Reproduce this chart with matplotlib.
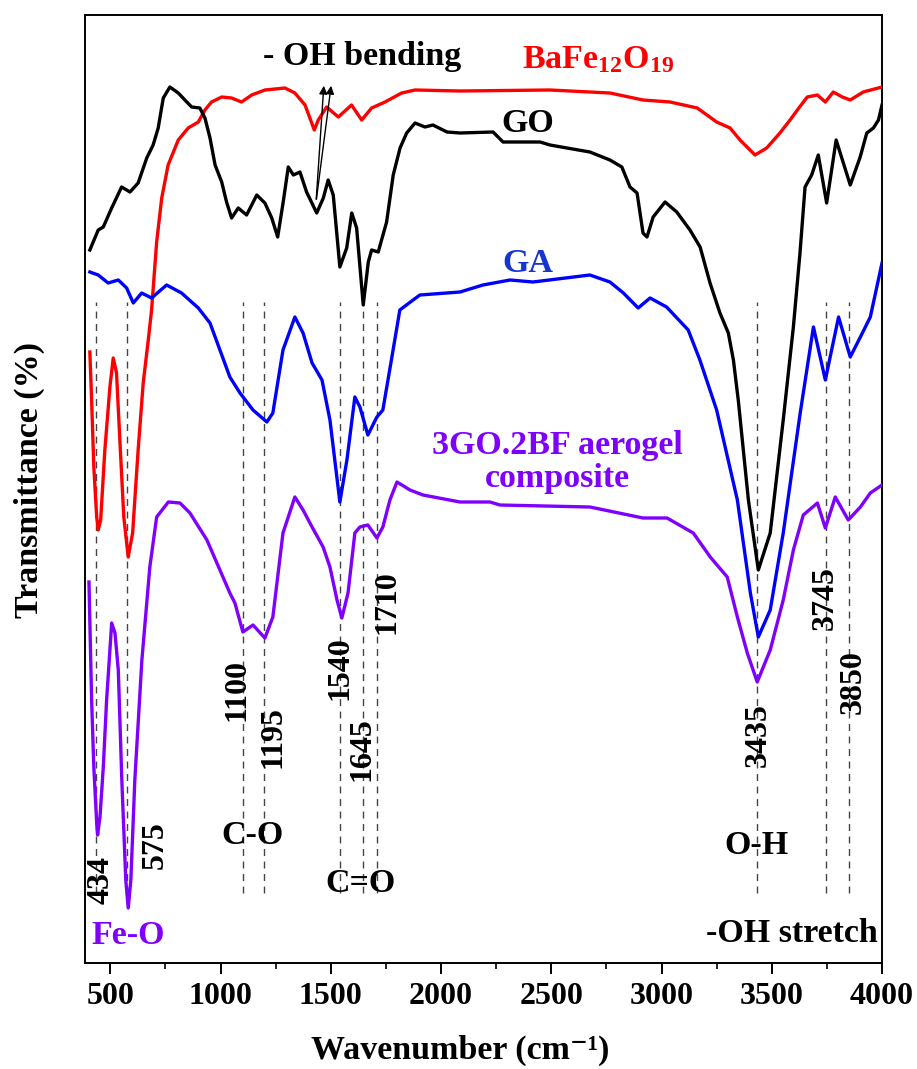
import matplotlib
matplotlib.use("Agg")
import matplotlib.pyplot as plt
from matplotlib.ticker import MultipleLocator

plt.rcParams.update({
    "font.family": ["Liberation Serif", "DejaVu Serif"],
    "font.weight": "bold",
    "mathtext.fontset": "custom",
    "mathtext.rm": "Liberation Serif:bold",
    "mathtext.bf": "Liberation Serif:bold",
    "mathtext.it": "Liberation Serif:bold",
})

# --- spectra (wavenumber, offset transmittance in arbitrary units) ---
go_wn = [407, 445, 468, 506, 551, 589, 626, 665, 694, 717, 740, 770, 808, 838,
         869, 906, 929, 952, 975, 1005, 1027, 1050, 1080, 1118, 1164, 1201, 1232,
         1259, 1284, 1307, 1330, 1360, 1390, 1436, 1466, 1488, 1511, 1541, 1572,
         1595, 1617, 1647, 1670, 1685, 1715, 1753, 1783, 1814, 1844, 1882, 1927,
         1963, 2027, 2086, 2236, 2281, 2449, 2494, 2571, 2675, 2766, 2820, 2857,
         2889, 2916, 2934, 2962, 3016, 3069, 3129, 3175, 3220, 3265, 3303, 3326,
         3348, 3394, 3439, 3493, 3553, 3598, 3628, 3651, 3681, 3711, 3749, 3792,
         3856, 3901, 3931, 3961, 3984, 4000]
go_t = [713, 733, 736, 755, 776, 771, 780, 805, 818, 835, 865, 876, 870, 863,
        856, 855, 845, 825, 798, 781, 761, 745, 755, 748, 768, 760, 745,
        726, 761, 796, 788, 791, 771, 750, 765, 783, 768, 696, 715,
        750, 735, 658, 701, 713, 711, 741, 788, 815, 830, 840, 836,
        838, 831, 830, 831, 821, 821, 818, 815, 811, 803, 796, 776,
        770, 730, 726, 746, 761, 751, 733, 716, 680, 650, 630, 603,
        563, 463, 393, 430, 545, 636, 710, 776, 788, 808, 760, 823,
        778, 806, 830, 835, 843, 858]

bf_wn = [407, 415, 425, 438, 445, 456, 475, 498, 513, 528, 543, 561, 581, 601,
         626, 649, 672, 687, 710, 733, 762, 808, 853, 899, 929, 959, 1005, 1050,
         1095, 1141, 1201, 1292, 1337, 1383, 1405, 1425, 1443, 1481, 1534, 1594,
         1640, 1685, 1746, 1821, 1882, 2086, 2494, 2766, 2916, 3039, 3162, 3250,
         3311, 3356, 3424, 3477, 3537, 3583, 3616, 3661, 3707, 3743, 3779, 3820,
         3856, 3915, 4000]
bf_t = [611, 563, 496, 446, 433, 443, 513, 576, 605, 590, 523, 446, 406, 430,
        513, 580, 623, 653, 721, 765, 798, 823, 835, 841, 853, 861, 866, 865,
        861, 868, 873, 875, 870, 858, 845, 833, 843, 856, 846, 858,
        843, 855, 861, 870, 873, 872, 873, 870, 863, 861, 855, 841,
        835, 823, 808, 815, 830, 843, 853, 866, 868, 861, 871, 866,
        863, 871, 876]

ga_wn = [407, 445, 490, 536, 574, 604, 642, 687, 755, 823, 899, 952, 1042, 1088,
         1147, 1210, 1237, 1283, 1337, 1374, 1415, 1460, 1496, 1541, 1573, 1609,
         1632, 1668, 1709, 1736, 1777, 1813, 1873, 1904, 2086, 2190, 2313, 2417,
         2675, 2766, 2827, 2894, 2948, 3023, 3121, 3174, 3250, 3344, 3403, 3439,
         3493, 3552, 3629, 3689, 3743, 3803, 3856, 3902, 3947, 4000]
ga_t = [691, 688, 680, 683, 675, 660, 670, 665, 678, 670, 655, 640, 586, 570,
        553, 541, 550, 613, 646, 630, 600, 583, 543, 461, 503, 566,
        556, 528, 546, 553, 606, 653, 663, 668, 671, 678, 683, 681,
        688, 681, 670, 655, 665, 656, 633, 603, 553, 463, 370, 326,
        353, 430, 550, 636, 583, 646, 606, 626, 646, 700]

cp_wn = [403, 415, 425, 438, 442, 453, 468, 483, 498, 506, 521, 536, 552, 570,
         581, 593, 611, 643, 679, 710, 763, 816, 861, 938, 997, 1042, 1065, 1101,
         1147, 1201, 1237, 1283, 1337, 1374, 1415, 1465, 1496, 1528, 1550, 1578,
         1609, 1632, 1668, 1709, 1736, 1768, 1800, 1859, 1918, 2086, 2222, 2267,
         2675, 2916, 3025, 3144, 3221, 3298, 3344, 3389, 3434, 3493, 3552, 3598,
         3643, 3707, 3743, 3788, 3847, 3902, 3947, 4000]
cp_t = [381, 263, 196, 140, 128, 146, 196, 263, 313, 340, 330, 293, 183, 83,
        55, 83, 183, 303, 396, 446, 461, 460, 450, 423, 393, 370, 360, 331,
        338, 325, 346, 430, 466, 453, 436, 416, 396, 363, 345, 370,
        430, 436, 438, 425, 436, 463, 481, 473, 468, 461, 461, 458,
        456, 445, 445, 430, 406, 386, 346, 310, 281, 313, 363, 413,
        448, 460, 435, 466, 443, 456, 470, 478]

# marked band positions
band_wn = [434, 575, 1100, 1195, 1540, 1645, 1710, 3435, 3745, 3850]
band_text = ["434", "575", "1100", "1195", "1540", "1645", "1710", "3435", "3745", "3850"]
band_lbl_x = [457, 702, 1074, 1237, 1541, 1641, 1755, 3439, 3743, 3870]
band_lbl_y = [83, 118, 273, 226, 295, 214, 361, 228, 365, 281]

RED = "#ff0000"
BLUE = "#0000ff"
PURPLE = "#7f00ff"

fig = plt.figure(figsize=(9.17, 10.69), dpi=100)
ax = fig.add_axes([85 / 917, 106 / 1069, 797 / 917, 948 / 1069])

for x in band_wn:
    ax.plot([x, x], [70, 661], color="#444444", lw=1.0, ls=(0, (5, 4)), zorder=1)

ax.plot(bf_wn, bf_t, color=RED, lw=2.4, zorder=3, solid_joinstyle="round")
ax.plot(go_wn, go_t, color="black", lw=2.4, zorder=3, solid_joinstyle="round")
ax.plot(ga_wn, ga_t, color=BLUE, lw=2.4, zorder=3, solid_joinstyle="round")
ax.plot(cp_wn, cp_t, color=PURPLE, lw=2.4, zorder=3, solid_joinstyle="round")

for s, x, y in zip(band_text, band_lbl_x, band_lbl_y):
    ax.text(x, y, s, rotation=90, ha="center", va="center", fontsize=23,
            fontweight="bold", color="black", zorder=4)

lab = dict(fontsize=24.5, fontweight="bold", ha="center", va="center", zorder=5)
ax.text(1641, 907, "- OH bending", color="black", **lab)
ax.text(2367, 903, r"BaFe$_{12}$O$_{19}$", color=RED, fontsize=24.5,
        fontweight="bold", ha="left", va="center", zorder=5)
ax.text(2395, 840, "GO", color="black", **lab)
ax.text(2395, 700, "GA", color="#1535d0", **lab)
ax.text(2526, 501, "3GO.2BF aerogel\ncomposite", color=PURPLE,
        linespacing=1.1, **lab)
ax.text(580, 28, "Fe-O", color=PURPLE, **lab)
ax.text(1147, 127, "C-O", color="black", **lab)
ax.text(1636, 80, "C=O", color="black", **lab)
ax.text(3430, 117, "O-H", color="black", **lab)
ax.text(3979, 30, "-OH stretch", color="black", fontsize=24.5, fontweight="bold",
        ha="right", va="center", zorder=5)

for tip in [(1469, 880), (1503, 880)]:
    ax.annotate("", xy=tip, xytext=(1433, 761),
                arrowprops=dict(arrowstyle="-|>", color="black", lw=1.0,
                                mutation_scale=12), zorder=5)

ax.set_xlim(385, 4000)
ax.set_ylim(0, 948)
ax.xaxis.set_major_locator(MultipleLocator(500))
ax.xaxis.set_minor_locator(MultipleLocator(250))
ax.tick_params(axis="x", which="major", direction="out", length=8, width=1.4,
               labelsize=23, pad=6)
ax.tick_params(axis="x", which="minor", direction="out", length=4, width=1.2)
ax.tick_params(axis="y", left=False, labelleft=False)
for lbl in ax.get_xticklabels():
    lbl.set_fontweight("bold")
for sp in ax.spines.values():
    sp.set_linewidth(1.4)

fig.text(460 / 917, 1 - 1050 / 1069, "Wavenumber (cm\u207b\u00b9)", ha="center",
         va="center", fontsize=24.5, fontweight="bold")
fig.text(29 / 917, 1 - 480 / 1069, "Transmittance (%)", rotation=90, ha="center",
         va="center", fontsize=24.5, fontweight="bold")

fig.savefig("out.png", dpi=100, facecolor="white")
